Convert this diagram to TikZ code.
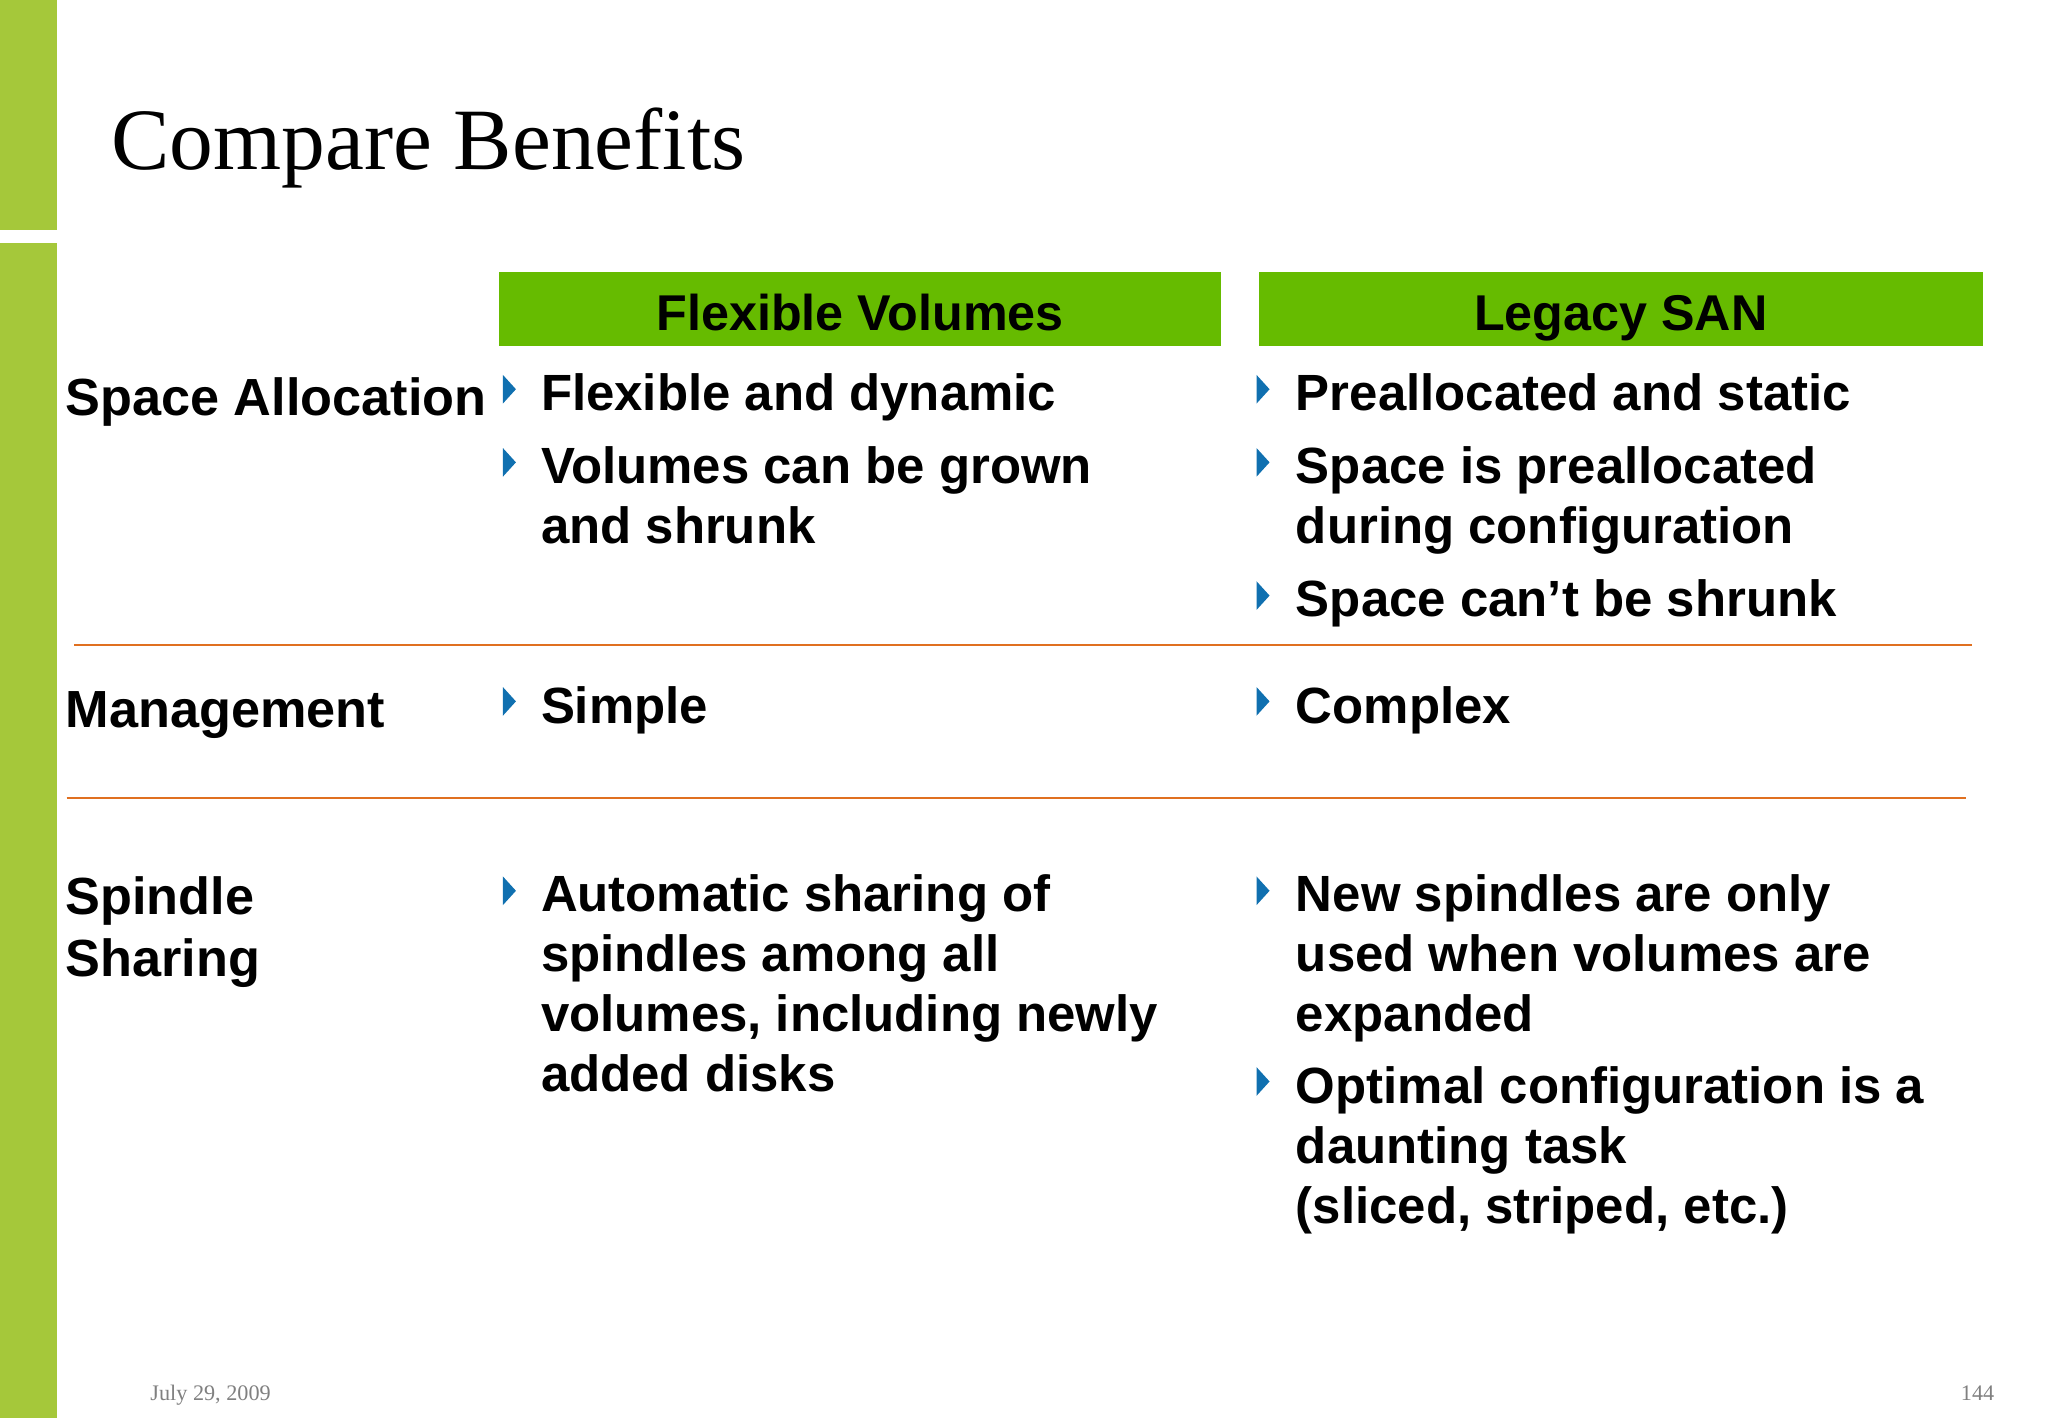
\documentclass[tikz,border=0pt]{standalone}
\usepackage{fontspec}
\setmainfont{Liberation Sans}
\newfontfamily\titlefont{Liberation Serif}
\definecolor{barg}{HTML}{A5C83A}
\definecolor{headg}{HTML}{66BB00}
\definecolor{orl}{HTML}{E07020}
\definecolor{blt}{HTML}{1070B0}
\begin{document}
\begin{tikzpicture}[x=1pt,y=-1pt,
  txt/.style={anchor=base west,inner sep=0pt,font=\fontsize{39}{46}\selectfont\bfseries,align=left},
  lbl/.style={anchor=base west,inner sep=0pt,font=\fontsize{40}{48}\selectfont\bfseries,align=left},
  hd/.style={anchor=base,inner sep=0pt,font=\fontsize{38.5}{46}\selectfont\bfseries},
  tri/.style={fill=blt}]
\useasboundingbox (0,0) rectangle (1568,1086);
\fill[white] (0,0) rectangle (1568,1086);
\fill[barg] (0,0) rectangle (44,176);
\fill[barg] (0,186) rectangle (44,1086);
\node[anchor=base west,inner sep=0pt,font=\titlefont\fontsize{67}{70}\selectfont] (title) at (85,130) {Compare Benefits};
\node[fill=headg,minimum width=553pt,minimum height=57pt,inner sep=0pt] (h1) at (658.5,236.5) {};
\node[fill=headg,minimum width=554pt,minimum height=57pt,inner sep=0pt] (h2) at (1241,236.5) {};
\node[hd] (h1t) at (658.5,253) {Flexible Volumes};
\node[hd] (h2t) at (1241,253) {Legacy SAN};
\coordinate (l1a) at (57,494); \coordinate (l1b) at (1510,494);
\coordinate (l2a) at (51,611); \coordinate (l2b) at (1505,611);
\draw[orl,line width=1.5pt] (l1a) -- (l1b);
\draw[orl,line width=1.5pt] (l2a) -- (l2b);
\node[lbl] (r1) at (50,318) {Space Allocation};
\node[lbl] (r2) at (50,557) {Management};
\node[lbl] (r3) at (50,748) {Spindle\\Sharing};
\foreach \x/\y in {385/287,385/343,385/526,385/671,962/287,962/343,962/445,962/526,962/671,962/817}
  \fill[tri] (\x,\y) -- (\x+10,\y+11) -- (\x,\y+22) -- cycle;
\node[txt] (a1) at (414,314) {Flexible and dynamic};
\node[txt] (a2) at (414,416) {Volumes can be grown\\and shrunk};
\node[txt] (a3) at (414,554) {Simple};
\node[txt] (a4) at (414,836) {Automatic sharing of\\spindles among all\\volumes, including newly\\added disks};
\node[txt] (b1) at (992,314) {Preallocated and static};
\node[txt] (b2) at (992,416) {Space is preallocated\\during configuration};
\node[txt] (b3) at (992,472) {Space can’t be shrunk};
\node[txt] (b4) at (992,554) {Complex};
\node[txt] (b5) at (992,790) {New spindles are only\\used when volumes are\\expanded};
\node[txt] (b6) at (992,937) {Optimal configuration is a\\daunting task\\(sliced, striped, etc.)};
\node[anchor=base west,inner sep=0pt,text=gray,font=\titlefont\fontsize{17}{20}\selectfont] (d) at (115,1072) {July 29, 2009};
\node[anchor=base east,inner sep=0pt,text=gray,font=\titlefont\fontsize{17}{20}\selectfont] (p) at (1527,1072) {144};
\end{tikzpicture}
\end{document}
